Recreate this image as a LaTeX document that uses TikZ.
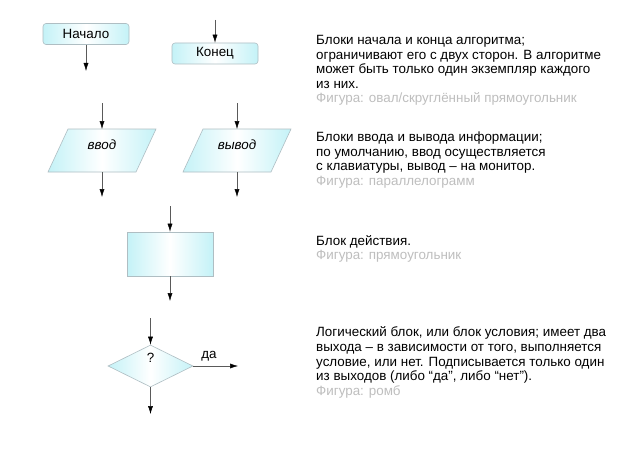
\documentclass[tikz,border=0pt]{standalone}
\usepackage{fontspec}
\setmainfont{Liberation Sans}
\usetikzlibrary{shapes.geometric,arrows.meta}
\definecolor{fillc}{RGB}{196,242,247}
\definecolor{borderc}{RGB}{175,190,195}
\definecolor{linec}{RGB}{90,90,90}
\definecolor{greyt}{RGB}{190,190,190}
\tikzset{
  blk/.style={draw=borderc, line width=0.6pt, left color=fillc, right color=fillc, middle color=white, inner sep=0pt, font=\fontsize{13.4}{14.6}\selectfont},
  termbox/.style={blk, rounded corners=3pt, minimum width=86pt, minimum height=21pt},
  actbox/.style={blk, minimum width=86pt, minimum height=44pt},
  condbox/.style={blk, diamond, aspect=2, minimum width=85pt, minimum height=42pt},
  lbl/.style={inner sep=1pt, font=\fontsize{13.4}{14.6}\selectfont},
  arr/.style={draw=linec, line width=0.5pt, -{Latex[length=8pt,width=5pt,black]}},
  desc/.style={anchor=west, align=left, inner sep=0pt, font=\fontsize{13.4}{14.6}\selectfont},
}
\begin{document}
\begin{tikzpicture}[x=1pt,y=-1pt]
\useasboundingbox[fill=white] (0,0) rectangle (640,452);
% terminals
\node[termbox] (start) at (86,34) {Начало};
\coordinate (startout) at (86,71);
\draw[arr] (start.south) -- (startout);
\node[termbox] (end) at (215,53.5) {Конец};
\coordinate (endin) at (215,20);
\draw[arr] (endin) -- (end.north);
% io: input
\path[blk] (68,129) -- (156,129) -- (136,172) -- (48,172) -- cycle;
\coordinate (intop) at (102,129);
\coordinate (inbot) at (102,172);
\node[lbl, font=\fontsize{13.4}{14.6}\selectfont\itshape] (in) at (102,145) {ввод};
\coordinate (inin) at (102,103);
\coordinate (inout) at (102,197);
\draw[arr] (inin) -- (intop);
\draw[arr] (inbot) -- (inout);
% io: output
\path[blk] (203,129) -- (291,129) -- (271,172) -- (183,172) -- cycle;
\coordinate (outtop) at (237,129);
\coordinate (outbot) at (237,172);
\node[lbl, font=\fontsize{13.4}{14.6}\selectfont\itshape] (out) at (237,145) {вывод};
\coordinate (outin) at (237,103);
\coordinate (outout) at (237,197);
\draw[arr] (outin) -- (outtop);
\draw[arr] (outbot) -- (outout);
% action
\node[actbox] (act) at (170,254) {};
\coordinate (actin) at (170,206);
\coordinate (actout) at (170,301);
\draw[arr] (actin) -- (act.north);
\draw[arr] (act.south) -- (actout);
% condition
\node[condbox] (cond) at (150.5,366) {};
\node[lbl] (q) at (150.5,358) {?};
\coordinate (condin) at (150.5,318);
\coordinate (condout) at (150.5,414);
\coordinate (condyes) at (238,366);
\draw[arr] (condin) -- (cond.north);
\draw[arr] (cond.south) -- (condout);
\draw[arr] (cond.east) -- (condyes);
\node[lbl] (yes) at (209,356) {да};
% descriptions
\node[desc] (d1) at (316,70.5) {Блоки начала и конца алгоритма;\\ограничивают его с двух сторон. В алгоритме\\может быть только один экземпляр каждого\\из них.\\{\color{greyt}Фигура: овал/скруглённый прямоугольник}};
\node[desc] (d2) at (316,160) {Блоки ввода и вывода информации;\\по умолчанию, ввод осуществляется\\с клавиатуры, вывод -- на монитор.\\{\color{greyt}Фигура: параллелограмм}};
\node[desc] (d3) at (316,249) {Блок действия.\\{\color{greyt}Фигура: прямоугольник}};
\node[desc] (d4) at (316,362.5) {Логический блок, или блок условия; имеет два\\выхода -- в зависимости от того, выполняется\\условие, или нет. Подписывается только один\\из выходов (либо “да”, либо “нет”).\\{\color{greyt}Фигура: ромб}};
\end{tikzpicture}
\end{document}
